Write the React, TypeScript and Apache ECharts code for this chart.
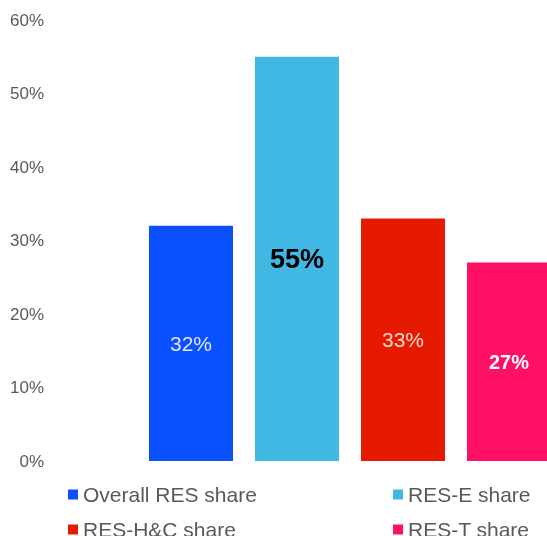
import React, { useEffect, useRef } from "react";
import * as echarts from "echarts";

const categories = ["Overall RES share", "RES-E share", "RES-H&C share", "RES-T share"];
const values = [32, 55, 33, 27];
const colors = ["#0A50FF", "#41B7E4", "#E51A00", "#FF1065"];
const yTicks = { min: 0, max: 60, interval: 10 };

const labelStyles = [
  { color: "#E4E4FF", fontSize: 21, fontWeight: "normal" },
  { color: "#000000", fontSize: 27, fontWeight: "bold" },
  { color: "#FFD8CC", fontSize: 21, fontWeight: "normal" },
  { color: "#FFFFFF", fontSize: 20, fontWeight: "bold" },
];

const FONT = "'Liberation Sans', Arial, sans-serif";

export default function App() {
  const ref = useRef<HTMLDivElement>(null);
  useEffect(() => {
    if (!ref.current) return;
    const chart = echarts.init(ref.current, undefined, { renderer: "svg" });
    const series = categories.map((name, i) => ({
      name,
      type: "bar",
      barWidth: 84,
      barGap: "-100%",
      itemStyle: { color: colors[i] },
      data: categories.map((_, j) => (j === i ? values[i] : "-")),
      label: {
        show: true,
        position: "inside",
        formatter: "{c}%",
        fontFamily: FONT,
        ...labelStyles[i],
      },
    }));
    const legendCommon = {
      orient: "vertical",
      top: 479,
      height: 120,
      itemWidth: 10,
      itemHeight: 10,
      itemGap: 14,
      icon: "rect",
      textStyle: { color: "#595959", fontSize: 21, fontFamily: FONT },
    };
    chart.setOption({
      animation: false,
      textStyle: { fontFamily: FONT },
      grid: { left: 138, width: 424, top: 20, bottom: 75 },
      xAxis: {
        type: "category",
        data: categories,
        axisLine: { show: false },
        axisTick: { show: false },
        axisLabel: { show: false },
      },
      yAxis: {
        type: "value",
        min: yTicks.min,
        max: yTicks.max,
        interval: yTicks.interval,
        splitLine: { show: false },
        axisLine: { show: false },
        axisTick: { show: false },
        axisLabel: {
          formatter: "{value}%",
          margin: 94,
          color: "#595959",
          fontSize: 17,
          fontFamily: FONT,
        },
      },
      legend: [
        { ...legendCommon, data: [categories[0], categories[2]], left: 63 },
        { ...legendCommon, data: [categories[1], categories[3]], left: 388 },
      ],
      series,
    });
    return () => chart.dispose();
  }, []);
  return (
    <div style={{ position: "fixed", left: 0, top: 0, width: 547, height: 536, overflow: "hidden" }}>
      <div ref={ref} style={{ width: 600, height: 536 }} />
    </div>
  );
}
